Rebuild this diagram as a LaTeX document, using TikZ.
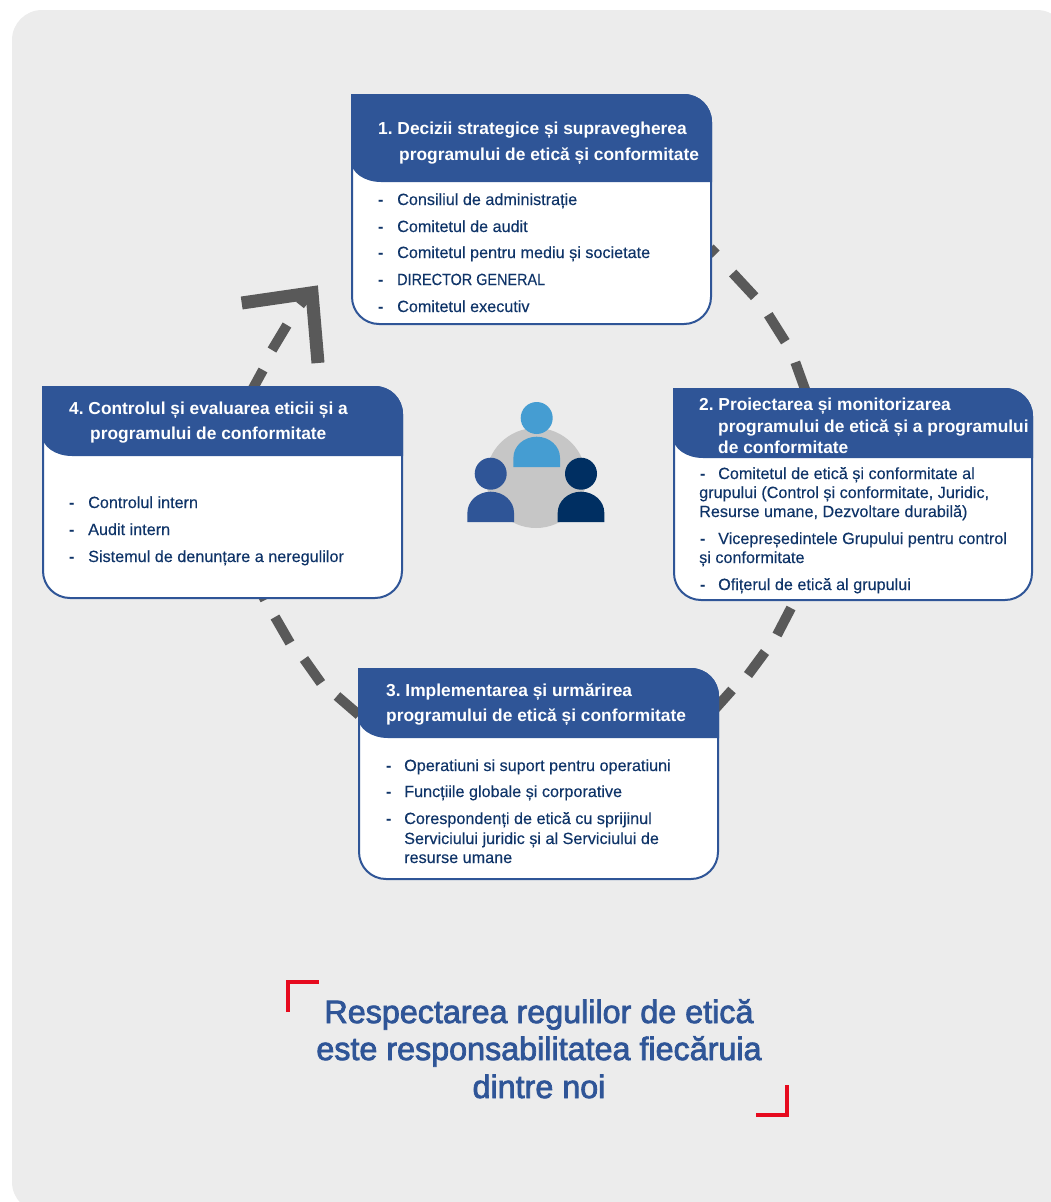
\documentclass[tikz,border=0pt]{standalone}
\usepackage{fontspec}
\setmainfont{Liberation Sans}
\newfontfamily\medfont[FakeBold=2.4]{Liberation Sans}
\newfontfamily\itemfont[FakeBold=0.25]{Liberation Sans}
\newfontfamily\capfont[FakeBold=0.25,FakeStretch=0.89]{Liberation Sans}
\frenchspacing
\definecolor{bgc}{HTML}{ECECEC}
\definecolor{hdr}{HTML}{2F5597}
\definecolor{bodyc}{HTML}{0F3468}
\definecolor{dashc}{HTML}{595959}
\definecolor{redc}{HTML}{E60A1E}
\definecolor{ringc}{HTML}{C6C6C6}
\definecolor{pone}{HTML}{459DD2}
\definecolor{pthree}{HTML}{002F62}
\tikzset{
  x=1pt,y=-1pt,
  dashseg/.style={draw=dashc,line width=10pt},
  head/.style={anchor=base west,inner sep=0pt,text=white,font=\fontsize{17.35}{18}\selectfont\bfseries},
  item/.style={anchor=base west,inner sep=0pt,text=bodyc,font=\fontsize{16.2}{18}\itemfont},
  itemdash/.style={anchor=base west,inner sep=0pt,text=bodyc,font=\fontsize{16.2}{18}\selectfont\bfseries},
  bigt/.style={anchor=base,inner sep=0pt,text=hdr,font=\fontsize{32.3}{34}\medfont},
  boxedge/.style={draw=hdr,line width=2pt,fill=white},
  bracket/.style={draw=redc,line width=4pt,miter limit=10},
}
\newcommand{\cardshape}[5]{% x0,y0,x1,y1,headerbottom
  \path[boxedge] (#1+1,#2+1) -- (#3-28,#2+1) arc[start angle=90,end angle=0,x radius=27,y radius=-27] -- (#3-1,#4-28)
    arc[start angle=0,end angle=-90,x radius=27,y radius=-27] -- (#1+28,#4-1)
    arc[start angle=-90,end angle=-180,x radius=27,y radius=-27] -- cycle;
  \path[fill=hdr] (#1,#2) -- (#3-28,#2) arc[start angle=90,end angle=0,x radius=28,y radius=-28] -- (#3,#5) -- (#1+30,#5)
    arc[start angle=-90,end angle=-180,x radius=30,y radius=-21] -- cycle;
}
\newcommand{\person}[4]{% cx, head cy, body top, colour
  \fill[#4] (#1,#2) circle[radius=16];
  \fill[#4] (#1-23.3,#3+30.3) -- (#1-23.3,#3+21) arc[start angle=180,end angle=0,x radius=23.3,y radius=-21] -- (#1+23.3,#3+30.3) -- cycle;
}
\begin{document}
\begin{tikzpicture}
\useasboundingbox (0,0) rectangle (1051,1202);
\fill[bgc] (12,40) arc[start angle=180,end angle=90,x radius=30,y radius=-30] -- (1037,10) arc[start angle=90,end angle=0,x radius=30,y radius=-30] -- (1067,1212) -- (42,1212) arc[start angle=-90,end angle=-180,x radius=30,y radius=-30] -- cycle;
% dashed ring
\draw[dashseg] (710,248) -- (716,254);
\draw[dashseg] (732.7,273) -- (754.7,296.7);
\draw[dashseg] (768.3,314.7) -- (785.3,341.7);
\draw[dashseg] (795.3,362.3) -- (806,392);
\draw[dashseg] (791,608) -- (777,635);
\draw[dashseg] (765,652) -- (748,675);
\draw[dashseg] (732,690) -- (715,709);
\draw[dashseg] (359,715) -- (337,696);
\draw[dashseg] (321,683) -- (304,659);
\draw[dashseg] (290,643) -- (275,617);
\draw[dashseg] (265,600) -- (261,592);
\draw[dashseg] (251,392) -- (263,370);
\draw[dashseg] (272,350) -- (287,325);
\draw[dashseg] (300,305) -- (308,295);
\draw[draw=dashc,line width=13pt,miter limit=10] (241.7,303) -- (312,292.8) -- (318,363);
% centre icon
\fill[ringc] (536,478) circle[radius=50];
\person{536.7}{418}{436.7}{pone}
\person{490.7}{473.7}{491.7}{hdr}
\person{581}{473.7}{491.7}{pthree}
% cards
\cardshape{351}{94}{712}{325}{182}
\cardshape{673}{388}{1033}{601}{458}
\cardshape{358}{668}{719}{880}{738}
\cardshape{42}{386}{403}{599}{456}
% card 1
\node[head] (a1) at (378,134) {1. Decizii strategice și supravegherea};
\node[head] (a2) at (399,160.5) {programului de etică și conformitate};
\node[itemdash] (a3d) at (378,205) {-};\node[item] (a3) at (397,205) {Consiliul de administrație};
\node[itemdash] (a4d) at (378,232) {-};\node[item] (a4) at (397,232) {Comitetul de audit};
\node[itemdash] (a5d) at (378,258) {-};\node[item] (a5) at (397,258) {Comitetul pentru mediu și societate};
\node[itemdash] (a6d) at (378,285) {-};\node[item,font=\fontsize{16.2}{18}\capfont] (a6) at (397,285) {DIRECTOR GENERAL};
\node[itemdash] (a7d) at (378,312) {-};\node[item] (a7) at (397,312) {Comitetul executiv};
% card 2
\node[head] (b1) at (699,410) {2. Proiectarea și monitorizarea};
\node[head] (b2) at (718,432) {programului de etică și a programului};
\node[head] (b3) at (718,453) {de conformitate};
\node[itemdash] (b4d) at (700,479) {-};\node[item] (b4) at (718,479) {Comitetul de etică și conformitate al};
\node[item] (b5) at (699,498) {grupului (Control și conformitate, Juridic,};
\node[item] (b6) at (699,517) {Resurse umane, Dezvoltare durabilă)};
\node[itemdash] (b7d) at (700,544) {-};\node[item] (b7) at (718,544) {Vicepreședintele Grupului pentru control};
\node[item] (b8) at (699,563) {și conformitate};
\node[itemdash] (b9d) at (700,590) {-};\node[item] (b9) at (718,590) {Ofițerul de etică al grupului};
% card 3
\node[head] (c1) at (386,696) {3. Implementarea și urmărirea};
\node[head] (c2) at (386,721) {programului de etică și conformitate};
\node[itemdash] (c3d) at (386,771) {-};\node[item] (c3) at (404,771) {Operatiuni si suport pentru operatiuni};
\node[itemdash] (c4d) at (386,797) {-};\node[item] (c4) at (404,797) {Funcțiile globale și corporative};
\node[itemdash] (c5d) at (386,824) {-};\node[item] (c5) at (404,824) {Corespondenți de etică cu sprijinul};
\node[item] (c6) at (404,844) {Serviciului juridic și al Serviciului de};
\node[item] (c7) at (404,863) {resurse umane};
% card 4
\node[head] (d1) at (69,414) {4. Controlul și evaluarea eticii și a};
\node[head] (d2) at (90,439) {programului de conformitate};
\node[itemdash] (d3d) at (69,508) {-};\node[item] (d3) at (88,508) {Controlul intern};
\node[itemdash] (d4d) at (69,535) {-};\node[item] (d4) at (88,535) {Audit intern};
\node[itemdash] (d5d) at (69,562) {-};\node[item] (d5) at (88,562) {Sistemul de denunțare a neregulilor};
% slogan
\node[bigt] (s1) at (539,1023) {Respectarea regulilor de etică};
\node[bigt] (s2) at (539,1060) {este responsabilitatea fiecăruia};
\node[bigt] (s3) at (539,1098) {dintre noi};
\draw[bracket] (288,1012) -- (288,982) -- (319,982);
\draw[bracket] (756,1115) -- (787,1115) -- (787,1085);
\end{tikzpicture}
\end{document}
